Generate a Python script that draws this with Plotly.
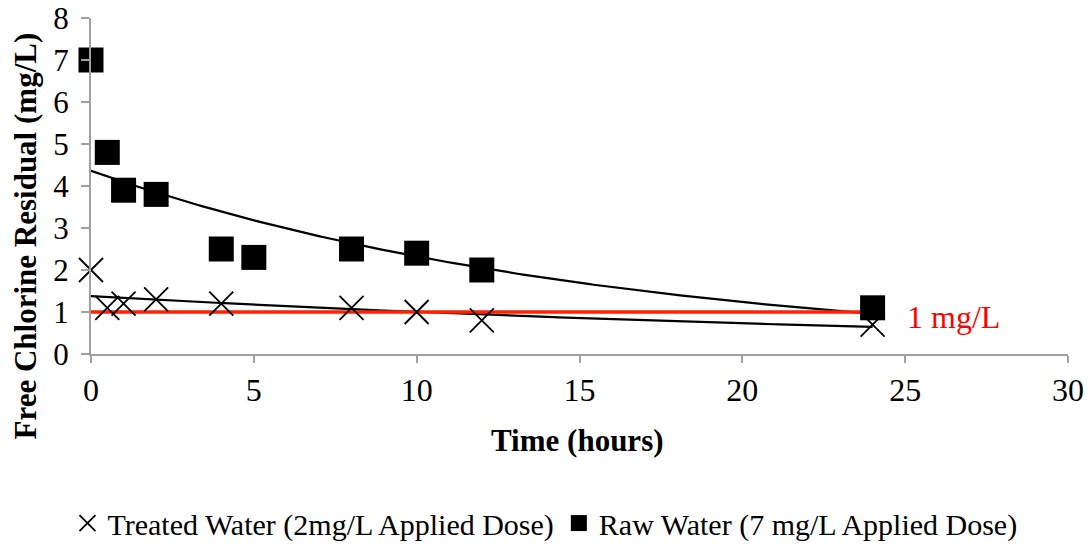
import numpy as np
import plotly.graph_objects as go

# Sampling times (hours) and measured free chlorine residual (mg/L)
raw_time = [0, 0.5, 1, 2, 4, 5, 8, 10, 12, 24]
raw_cl = [7.0, 4.8, 3.9, 3.8, 2.5, 2.3, 2.5, 2.4, 2.0, 1.1]

treated_time = [0, 0.5, 1, 2, 4, 8, 10, 12, 24]
treated_cl = [2.0, 1.1, 1.2, 1.3, 1.2, 1.1, 1.0, 0.8, 0.7]

target_level = 1.0
target_span = [0, 24]

x_ticks = [0, 5, 10, 15, 20, 25, 30]
y_ticks = [0, 1, 2, 3, 4, 5, 6, 7, 8]

SERIF = "Liberation Serif"
AXIS_GREY = "#a0a0a0"


def exp_fit(x, y):
    """Least-squares exponential trend y = a*exp(b*x)."""
    x = np.asarray(x, float)
    y = np.asarray(y, float)
    b, ln_a = np.polyfit(x, np.log(y), 1)
    xs = np.linspace(x.min(), x.max(), 200)
    return xs, np.exp(ln_a) * np.exp(b * xs)


fig = go.Figure()

# exponential trendlines
for tx, ty in (treated_time, treated_cl), (raw_time, raw_cl):
    xs, ys = exp_fit(tx, ty)
    fig.add_trace(go.Scatter(x=xs, y=ys, mode="lines",
                             line=dict(color="black", width=2.2),
                             showlegend=False, hoverinfo="skip"))

# 1 mg/L reference line
fig.add_trace(go.Scatter(x=target_span, y=[target_level] * 2, mode="lines",
                         line=dict(color="#ff2200", width=3.5),
                         showlegend=False, hoverinfo="skip"))

fig.add_trace(go.Scatter(
    x=treated_time, y=treated_cl, mode="markers",
    name="Treated Water (2mg/L Applied Dose)",
    cliponaxis=False,
    marker=dict(symbol="x-thin", size=24, color="black",
                line=dict(color="black", width=1.8)),
))
fig.add_trace(go.Scatter(
    x=raw_time, y=raw_cl, mode="markers",
    name="Raw Water (7 mg/L Applied Dose)",
    cliponaxis=False,
    marker=dict(symbol="square", size=25, color="black"),
))

fig.add_annotation(x=25.0, y=target_level, xref="x", yref="y",
                   text="1 mg/L", showarrow=False, xanchor="left",
                   yanchor="middle", yshift=-5,
                   font=dict(family=SERIF, size=32, color="#ff0000"))

fig.add_annotation(x=-0.0675, y=0.35, xref="paper", yref="paper",
                   text="<b>Free Chlorine Residual (mg/L)</b>",
                   textangle=-90, showarrow=False,
                   xanchor="center", yanchor="middle",
                   font=dict(family=SERIF, size=31, color="black"))

fig.add_annotation(x=0.498, y=-0.257, xref="paper", yref="paper",
                   text="<b>Time (hours)</b>", showarrow=False,
                   xanchor="center", yanchor="middle",
                   font=dict(family=SERIF, size=31, color="black"))

fig.update_layout(
    width=1091, height=546,
    margin=dict(l=91, r=23, t=18, b=192, autoexpand=False),
    paper_bgcolor="white", plot_bgcolor="white",
    font=dict(family=SERIF, color="black"),
    legend=dict(orientation="h", xref="container", yref="container",
                x=0.4995, y=0.042,
                xanchor="center", yanchor="middle",
                font=dict(family=SERIF, size=30, color="black"),
                itemwidth=30, tracegroupgap=0),
    xaxis=dict(range=[0, 30], tickvals=x_ticks, showgrid=False,
               zeroline=False, showline=True, linecolor=AXIS_GREY,
               linewidth=2, ticks="outside", ticklen=7, tickwidth=2,
               tickcolor=AXIS_GREY, automargin=False,
               ticklabelstandoff=0, ticklabeloverflow="allow",
               tickfont=dict(family=SERIF, size=32, color="black")),
    yaxis=dict(range=[0, 8], tickvals=y_ticks, showgrid=False,
               zeroline=False, showline=True, linecolor=AXIS_GREY,
               linewidth=2, ticks="outside", ticklen=8, tickwidth=2,
               tickcolor=AXIS_GREY, automargin=False,
               ticklabelstandoff=6, ticklabeloverflow="allow",
               tickfont=dict(family=SERIF, size=31, color="black")),
)

fig.write_html("out.html")
